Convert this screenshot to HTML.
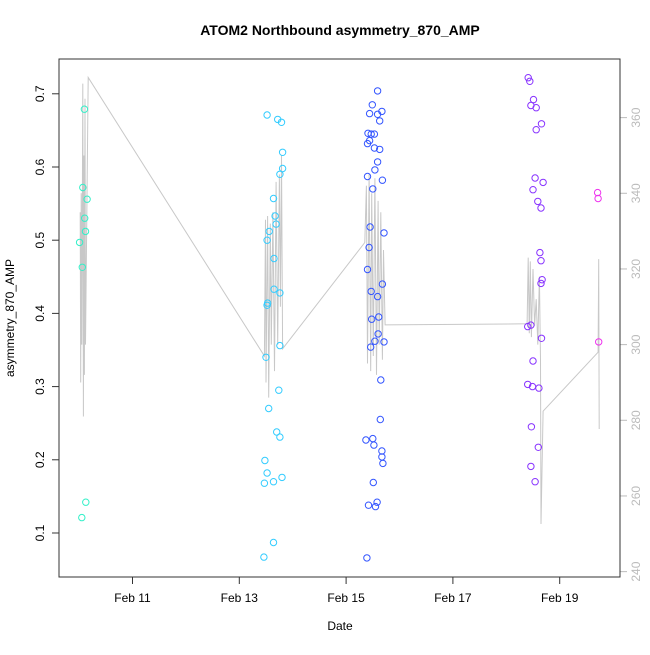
<!DOCTYPE html>
<html><head><meta charset="utf-8"><style>
body{margin:0;background:#fff}
text{font-family:"Liberation Sans",sans-serif}
</style></head><body>
<svg id="chart" width="650" height="650" xmlns="http://www.w3.org/2000/svg">
<text x="340" y="35" text-anchor="middle" font-size="14" font-weight="bold">ATOM2 Northbound asymmetry_870_AMP</text>
<text x="340" y="630" text-anchor="middle" font-size="12">Date</text>
<text transform="translate(14,318) rotate(-90)" text-anchor="middle" font-size="12">asymmetry_870_AMP</text>
<g id="grey"></g><g id="pts"></g><g id="axes"></g>
<rect x="59" y="59" width="561" height="518" fill="none" stroke="#333" stroke-width="1"/>
</svg>
<script>
const xTickDays=[11,13,15,17,19];
const xTickLabels=["Feb 11","Feb 13","Feb 15","Feb 17","Feb 19"];
const yTicks=[0.1,0.2,0.3,0.4,0.5,0.6,0.7];
const rTicks=[240,260,280,300,320,340,360];
const colors=["#33f0c8","#33ccff","#3355ff","#8833ff","#ee33ee"];
const g1Days=[10.01,10.06,10.07,10.10,10.105,10.12,10.15,10.05,10.125];
const g1Vals=[0.497,0.463,0.572,0.679,0.530,0.512,0.556,0.121,0.142];
const g2Days=[13.52,13.72,13.79,13.81,13.81,13.76,13.64,13.67,13.69,13.56,13.52,13.65,13.65,13.76,13.52,13.53,13.76,13.50,13.74,13.55,13.70,13.76,13.48,13.52,13.47,13.64,13.80,13.64,13.46];
const g2Vals=[0.671,0.665,0.661,0.620,0.598,0.590,0.557,0.533,0.522,0.512,0.500,0.475,0.433,0.428,0.411,0.414,0.356,0.340,0.295,0.270,0.238,0.231,0.199,0.182,0.168,0.170,0.176,0.087,0.067];
const g3Days=[15.59,15.49,15.44,15.59,15.67,15.63,15.41,15.47,15.53,15.44,15.40,15.53,15.63,15.59,15.54,15.40,15.68,15.50,15.45,15.71,15.43,15.40,15.47,15.68,15.59,15.48,15.61,15.60,15.54,15.71,15.46,15.65,15.64,15.37,15.50,15.52,15.67,15.67,15.69,15.51,15.42,15.58,15.55,15.39];
const g3Vals=[0.704,0.685,0.673,0.672,0.676,0.663,0.646,0.645,0.645,0.636,0.632,0.626,0.624,0.607,0.596,0.587,0.582,0.570,0.518,0.510,0.490,0.460,0.430,0.440,0.423,0.392,0.395,0.372,0.362,0.361,0.354,0.309,0.255,0.227,0.229,0.220,0.212,0.204,0.195,0.169,0.138,0.142,0.136,0.066];
const g4Days=[18.41,18.44,18.51,18.46,18.56,18.66,18.56,18.54,18.69,18.50,18.59,18.65,18.63,18.65,18.67,18.65,18.40,18.46,18.66,18.50,18.40,18.49,18.61,18.47,18.60,18.46,18.54];
const g4Vals=[0.722,0.717,0.692,0.684,0.681,0.659,0.651,0.585,0.579,0.569,0.553,0.544,0.483,0.472,0.446,0.441,0.382,0.384,0.366,0.335,0.303,0.300,0.298,0.245,0.217,0.191,0.170];
const g5Days=[19.71,19.72,19.73];
const g5Vals=[0.565,0.557,0.361];
const greyDays=[10.02,10.03,10.04,10.05,10.07,10.08,10.09,10.10,10.11,10.12,10.17,13.47,13.49,13.50,13.53,13.55,13.58,13.60,13.63,13.66,13.69,13.72,13.75,13.77,13.79,13.81,15.35,15.38,15.40,15.43,15.46,15.48,15.51,15.54,15.57,15.60,15.62,15.65,15.68,15.70,15.73,18.39,18.41,18.43,18.45,18.47,18.50,18.53,18.56,18.59,18.62,18.64,18.65,18.69,19.72,19.73,19.74];
const greyVals=[335,290,340,300,369,281,350,292,365,300,370.6,297,333,290,334,286,332,300,335,293,343,300,345,310,350,298.9,327,342,295,345,293,340,297,344,292,338,300,335,296,325,305.2,305.5,323,303,322,302,320,305,312,300,318,296,252.6,282.4,298,322.6,277.7];
const NS="http://www.w3.org/2000/svg";
const X=d=>132.5+(d-11)*53.4;
const Y=v=>50+(450-(v-0.1)*682)*1.0733;
const R=r=>50+(486-(r-240)*3.525)*1.0733;
function mk(tag,attrs,parent){const e=document.createElementNS(NS,tag);for(const k in attrs)e.setAttribute(k,attrs[k]);document.getElementById(parent).appendChild(e);return e;}
let pts=greyDays.map((d,i)=>X(d).toFixed(1)+","+R(greyVals[i]).toFixed(1)).join(" ");
const gl=mk("polyline",{points:pts,fill:"none",stroke:"#c8c8c8","stroke-width":1},"grey");


const groups=[[g1Days,g1Vals],[g2Days,g2Vals],[g3Days,g3Vals],[g4Days,g4Vals],[g5Days,g5Vals]];
groups.forEach((g,gi)=>{g[0].forEach((d,i)=>{
 const c=mk("circle",{cx:X(d).toFixed(1),cy:Y(g[1][i]).toFixed(1),r:3.2,fill:"none",stroke:colors[gi],"stroke-width":1},"pts");
 
 
});});
xTickDays.forEach((d,i)=>{
 const t=mk("line",{x1:X(d),x2:X(d),y1:577,y2:584,stroke:"#333"},"axes");
 
 
 const l=mk("text",{x:X(d),y:602,"text-anchor":"middle","font-size":12},"axes");
 l.textContent=xTickLabels[i];
 
 
});
yTicks.forEach(v=>{
 const t=mk("line",{x1:52,x2:59,y1:Y(v),y2:Y(v),stroke:"#333"},"axes");
 
 
 const l=mk("text",{transform:`translate(44,${Y(v)}) rotate(-90)`,"text-anchor":"middle","font-size":12},"axes");
 l.textContent=v.toFixed(1);
 
 
});
rTicks.forEach(v=>{
 const t=mk("line",{x1:620,x2:627,y1:R(v),y2:R(v),stroke:"#bbb"},"axes");
 
 
 const l=mk("text",{transform:`translate(640,${R(v)}) rotate(-90)`,"text-anchor":"middle","font-size":12,fill:"#bbb"},"axes");
 l.textContent=v;
 
 
});
</script>
</body></html>
